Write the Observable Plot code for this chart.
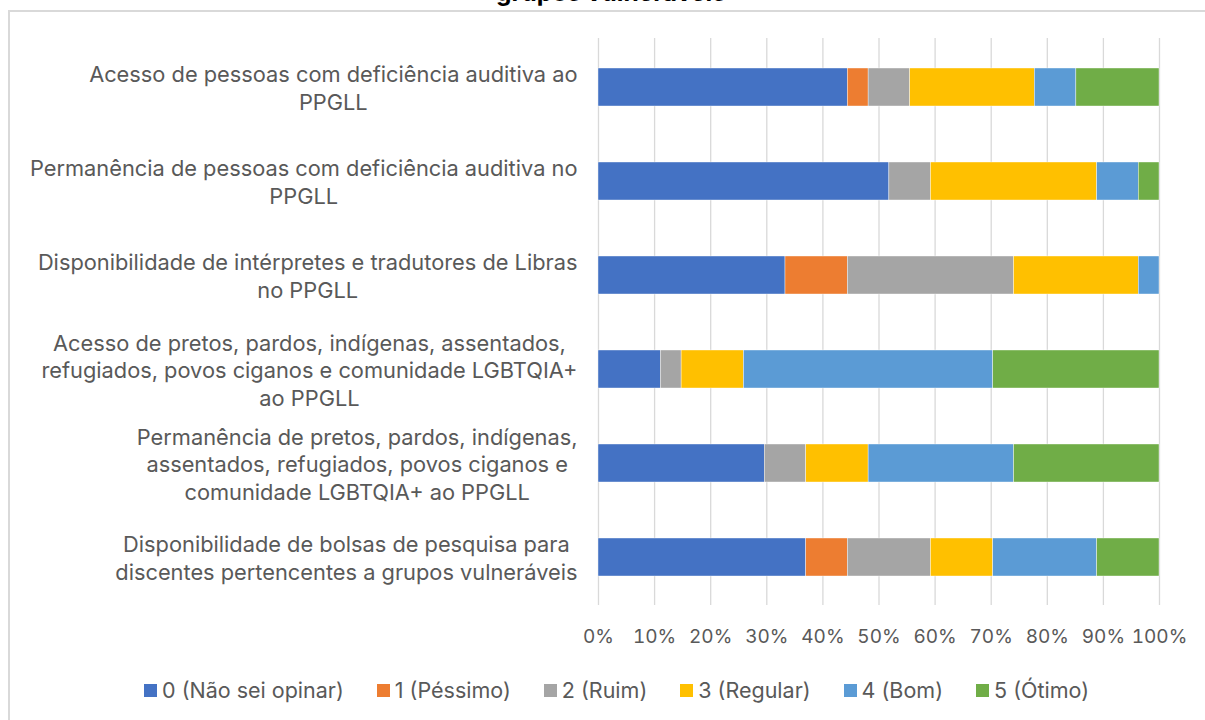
<!DOCTYPE html>
<html><head><meta charset="utf-8">
<script src="https://cdn.jsdelivr.net/npm/d3@7"></script>
<script src="https://cdn.jsdelivr.net/npm/@observablehq/plot@0.6"></script>
<style>
html,body{margin:0;padding:0;background:#fff;}
body{width:1205px;height:720px;position:relative;overflow:hidden;font-family:Inter,"Noto Sans",sans-serif;}
#frame{position:absolute;left:8px;top:10px;width:1200px;height:720px;border-left:2px solid #d9d9d9;border-top:2px solid #d9d9d9;box-sizing:border-box;}
#title{position:absolute;left:0;width:1222px;top:-23px;text-align:center;font-weight:bold;font-size:24.5px;line-height:30px;color:#000;}
#chart{position:absolute;left:0;top:0;}
#legend{position:absolute;top:678px;left:14px;width:1205px;display:flex;justify-content:center;gap:33px;font-size:21.5px;line-height:24px;color:#595959;}
#legend span.item{display:flex;align-items:center;}
#legend i{display:inline-block;width:13px;height:13px;margin-right:5px;}
</style></head>
<body>
<div id="frame"></div>
<div id="title">grupos vulneráveis</div>
<div id="chart"></div>
<div id="legend"></div>
<script>
const categories = [
  "Acesso de pessoas com deficiência auditiva ao\nPPGLL",
  "Permanência de pessoas com deficiência auditiva no\nPPGLL",
  "Disponibilidade de intérpretes e tradutores de Libras\nno PPGLL",
  "Acesso de pretos, pardos, indígenas, assentados,\nrefugiados, povos ciganos e comunidade LGBTQIA+\nao PPGLL",
  "Permanência de pretos, pardos, indígenas,\nassentados, refugiados, povos ciganos e\ncomunidade LGBTQIA+ ao PPGLL",
  "Disponibilidade de bolsas de pesquisa para\ndiscentes pertencentes a grupos vulneráveis"
];
const seriesNames = ["0 (Não sei opinar)", "1 (Péssimo)", "2 (Ruim)", "3 (Regular)", "4 (Bom)", "5 (Ótimo)"];
const seriesColors = ["#4472C4", "#ED7D31", "#A5A5A5", "#FFC000", "#5B9BD5", "#70AD47"];
// response counts per category (out of 27 respondents)
const naoSeiOpinar = [12, 14, 9, 3, 8, 10];
const pessimo      = [1, 0, 3, 0, 0, 2];
const ruim         = [2, 2, 8, 1, 2, 4];
const regular      = [6, 8, 6, 3, 3, 3];
const bom          = [2, 2, 1, 12, 7, 5];
const otimo        = [4, 1, 0, 8, 7, 3];
const xTicks = [0, 0.1, 0.2, 0.3, 0.4, 0.5, 0.6, 0.7, 0.8, 0.9, 1];

const seriesValues = [naoSeiOpinar, pessimo, ruim, regular, bom, otimo];
const rows = [];
categories.forEach((c, i) => {
  seriesNames.forEach((s, j) => rows.push({category: c, series: s, value: seriesValues[j][i]}));
});

const chart = Plot.plot({
  width: 1205,
  height: 655,
  marginLeft: 598,
  marginRight: 46,
  marginTop: 38,
  marginBottom: 50,
  style: {fontFamily: "Inter, 'Noto Sans', sans-serif", fontSize: "19px", color: "#595959", background: "transparent"},
  x: {domain: [0, 1], ticks: xTicks, tickFormat: d => Math.round(d * 100) + "%"},
  y: {domain: categories, paddingInner: 0.6, paddingOuter: 0.3},
  color: {domain: seriesNames, range: seriesColors},
  marks: [
    Plot.ruleX(xTicks, {stroke: "#d9d9d9", strokeWidth: 1.3}),
    Plot.barX(rows, Plot.stackX({
      x: "value", y: "category", fill: "series", offset: "normalize", order: seriesNames,
      stroke: "#fff", strokeWidth: 0.4
    })),
    Plot.axisX({ticks: xTicks, tickFormat: d => Math.round(d * 100) + "%", tickSize: 0, tickPadding: 24, fontSize: 19, fill: "#595959", label: null}),
    Plot.axisY({tickSize: 0, tickPadding: 21, fontSize: 21.8, fill: "#595959", lineHeight: 1.28, lineWidth: 100, label: null})
  ]
});
document.getElementById("chart").appendChild(chart);

// centre the wrapped lines of each category label within its right-aligned block
chart.querySelectorAll("[aria-label='y-axis tick label'] text").forEach(t => {
  const spans = Array.from(t.querySelectorAll("tspan"));
  if (spans.length < 2) return;
  const widths = spans.map(s => s.getComputedTextLength());
  const maxW = Math.max(...widths);
  spans.forEach((s, k) => s.setAttribute("x", -(maxW - widths[k]) / 2));
});

const legend = document.getElementById("legend");
seriesNames.forEach((s, j) => {
  const item = document.createElement("span");
  item.className = "item";
  item.innerHTML = `<i style="background:${seriesColors[j]}"></i>${s}`;
  legend.appendChild(item);
});
</script>
</body></html>
